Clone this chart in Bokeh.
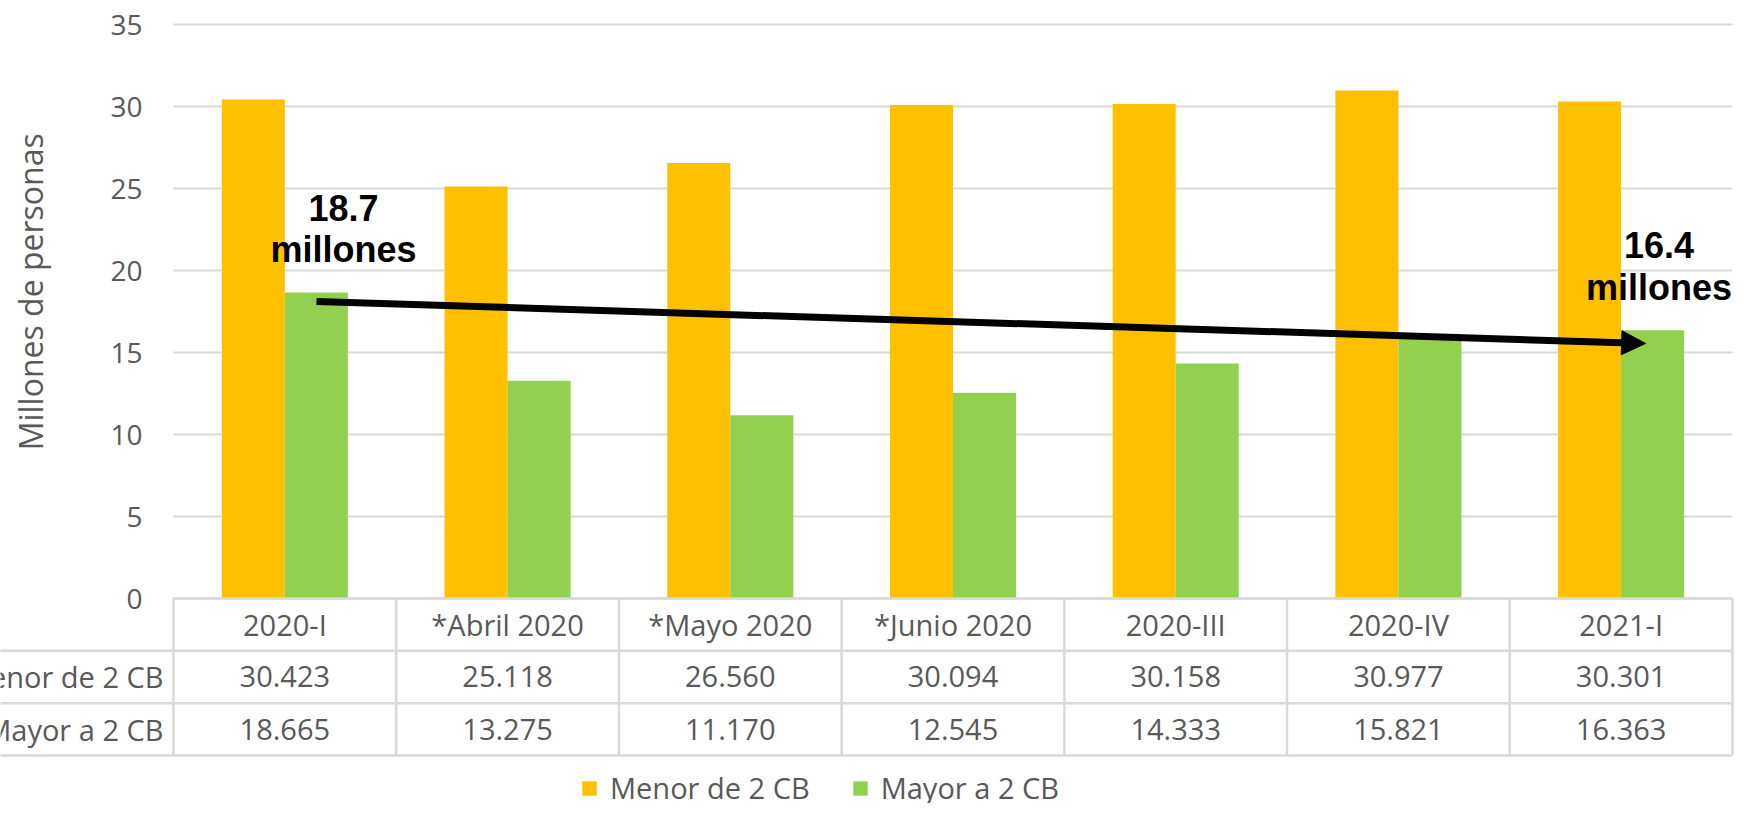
import math
from bokeh.plotting import figure
from bokeh.models import (ColumnDataSource, Range1d, Arrow, NormalHead, Legend, LegendItem)
from bokeh.transform import dodge
from bokeh.core.properties import value
from bokeh.embed import file_html
from bokeh.resources import INLINE

# ---------------- data ----------------
categorias = ["2020-I", "*Abril 2020", "*Mayo 2020", "*Junio 2020", "2020-III", "2020-IV", "2021-I"]
menor_2cb = [30.423, 25.118, 26.560, 30.094, 30.158, 30.977, 30.301]
mayor_2cb = [18.665, 13.275, 11.170, 12.545, 14.333, 15.821, 16.363]
series = ["Menor de 2 CB", "Mayor a 2 CB"]
y_ticks = [0, 5, 10, 15, 20, 25, 30, 35]
eje_y = "Millones de personas"
anot_inicio = ["18.7", "millones"]
anot_fin = ["16.4", "millones"]

# ---------------- layout constants ----------------
W, H = 1734, 803
PLOT_LEFT_PX = 173        # left edge of the column area
COL_PX = 222.71           # pixels per category column
TOP_PX = 24               # pixel row of the top tick
PX_PER_UNIT = 16.4        # pixels per million
y_top_tick = max(y_ticks)
BW = 0.283                # bar width (category units)
ROW_H = 3.19              # table row height (data units)
GRID = "#d9d9d9"
TXT = "#595959"
YELLOW = "#FFC000"
GREEN = "#92D050"
FONT = "Open Sans"
FS_TICK = "28px"
FS = "29px"

n = len(categorias)
x_rng = Range1d(-PLOT_LEFT_PX / COL_PX, (W - PLOT_LEFT_PX) / COL_PX)
y_end = y_top_tick + TOP_PX / PX_PER_UNIT
y_rng = Range1d(y_end - H / PX_PER_UNIT, y_end)

p = figure(width=W, height=H, x_range=x_rng, y_range=y_rng,
           output_backend="svg", toolbar_location=None,
           x_axis_location=None, y_axis_location=None,
           min_border_left=0, min_border_right=0, min_border_top=0, min_border_bottom=0)
p.outline_line_color = None
p.background_fill_color = "white"
p.border_fill_color = "white"
p.grid.visible = False

centers = [i + 0.5 for i in range(n)]
src = ColumnDataSource(dict(
    xc=centers, cat=categorias, menor=menor_2cb, mayor=mayor_2cb,
    menor_txt=[f"{v:.3f}" for v in menor_2cb],
    mayor_txt=[f"{v:.3f}" for v in mayor_2cb],
))

# ---------------- value axis (grid + tick labels via the y scale) ----------------
p.segment(x0=[0] * len(y_ticks), x1=[n] * len(y_ticks), y0=y_ticks, y1=y_ticks,
          line_color=GRID, line_width=2, level="underlay")
tick_src = ColumnDataSource(dict(y=y_ticks, lab=[str(t) for t in y_ticks]))
p.text(x=-31 / COL_PX, y="y", text="lab", source=tick_src, text_align="right",
       text_baseline="middle", text_font=value(FONT), text_font_size=FS_TICK, text_color=TXT)
p.text(x=[-143 / COL_PX], y=[18.7], text=[eje_y], angle=math.pi / 2, text_align="center",
       text_baseline="middle", text_font=value(FONT), text_font_size="32px", text_color=TXT)

# ---------------- bars ----------------
r1 = p.vbar(x=dodge("xc", -BW / 2), top="menor", width=BW, source=src,
            fill_color=YELLOW, line_color=None)
r2 = p.vbar(x=dodge("xc", BW / 2), top="mayor", width=BW, source=src,
            fill_color=GREEN, line_color=None)

# ---------------- data table ----------------
row_lines = [0, -ROW_H, -2 * ROW_H, -3 * ROW_H]
x_far_left = x_rng.start - 1
p.segment(x0=[0] + [x_far_left] * 3, x1=[n] * 4, y0=row_lines, y1=row_lines,
          line_color=GRID, line_width=2.5)
p.segment(x0=list(range(n + 1)), x1=list(range(n + 1)), y0=[0] * (n + 1),
          y1=[-3 * ROW_H] * (n + 1), line_color=GRID, line_width=2.5)

row_centers = [-ROW_H / 2, -1.5 * ROW_H, -2.5 * ROW_H]
for yc, col in zip(row_centers, ["cat", "menor_txt", "mayor_txt"]):
    p.text(x="xc", y=yc, text=col, source=src, text_align="center", text_baseline="middle",
           text_font=value(FONT), text_font_size=FS, text_color=TXT)
p.text(x=[-10 / COL_PX] * 2, y=row_centers[1:], text=series, text_align="right",
       text_baseline="middle", text_font=value(FONT), text_font_size=FS, text_color=TXT)

# ---------------- annotations ----------------
p.add_layout(Arrow(x_start=0.642, y_start=18.11, x_end=6.61, y_end=15.55,
                   start=None, end=NormalHead(size=24, fill_color="black", line_color="black"),
                   line_color="black", line_width=7))
ann_x = [0.763, 0.763, 6.67, 6.67]
ann_y = [23.79, 21.29, 21.53, 18.97]
p.text(x=ann_x, y=ann_y, text=anot_inicio + anot_fin, text_align="center",
       text_baseline="alphabetic", text_font=value("Liberation Sans"), text_font_style="bold",
       text_font_size="36px", text_color="black")

# ---------------- legend ----------------
legend = Legend(items=[LegendItem(label=series[0], renderers=[r1]),
                       LegendItem(label=series[1], renderers=[r2])],
                orientation="horizontal", location=(580, -4), padding=0, margin=0, spacing=41,
                border_line_color=None, background_fill_alpha=0,
                glyph_width=18, glyph_height=18, label_standoff=12,
                label_text_font=FONT, label_text_font_size=FS, label_text_color=TXT)
p.add_layout(legend)

open("out.html", "w").write(file_html(p, INLINE))
